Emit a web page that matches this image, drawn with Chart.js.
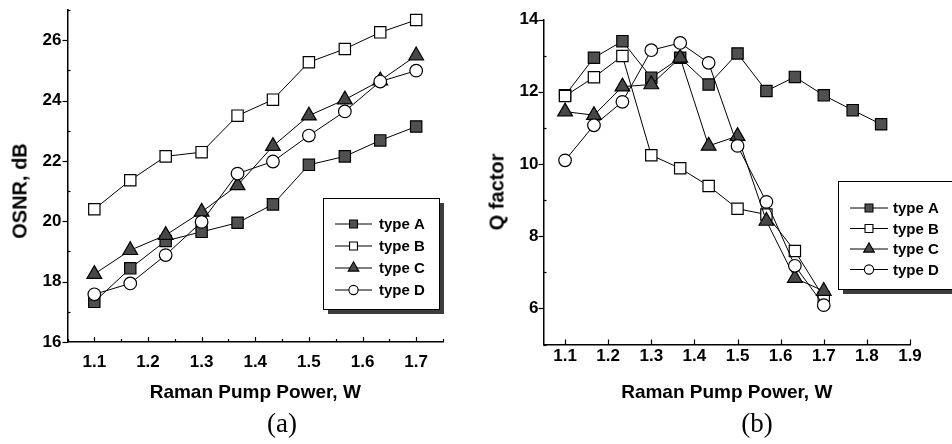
<!DOCTYPE html>
<html>
<head>
<meta charset="utf-8">
<script src="https://cdn.jsdelivr.net/npm/chart.js@4.4.1/dist/chart.umd.min.js"></script>
<style>
  html, body { margin: 0; padding: 0; background: #fff; }
  body { width: 952px; height: 444px; position: relative; overflow: hidden; font-family: "Liberation Sans", Arial, sans-serif; }
  .panel { position: absolute; top: 0; width: 476px; height: 444px; }
  .ytitle { position: absolute; transform: translate(-50%, -50%) rotate(-90deg); font: bold 20px "Liberation Sans", Arial, sans-serif; white-space: nowrap; color: #000; }
  .caption { position: absolute; transform: translate(-50%, -50%); font: 27px "Liberation Serif", "DejaVu Serif", serif; color: #000; white-space: nowrap; }
</style>
</head>
<body>
<div class="panel" style="left:0px"><canvas id="c1" width="476" height="444"></canvas></div>
<div class="panel" style="left:476px"><canvas id="c2" width="476" height="444"></canvas></div>
<div class="ytitle" style="left:20px; top:191px">OSNR, dB</div>
<div class="ytitle" style="left:497px; top:192px">Q factor</div>
<div class="caption" style="left:282px; top:423px">(a)</div>
<div class="caption" style="left:757px; top:423px">(b)</div>
<script>
// ---------- data ----------
const seriesNames = ['type A', 'type B', 'type C', 'type D'];
const xTitle = 'Raman Pump Power, W';

// (a) OSNR vs Raman pump power
const powerOSNR = [1.1, 1.167, 1.233, 1.3, 1.367, 1.433, 1.5, 1.567, 1.633, 1.7];
const osnrA = [17.33, 18.44, 19.35, 19.65, 19.95, 20.56, 21.87, 22.15, 22.68, 23.14];
const osnrB = [20.40, 21.36, 22.15, 22.29, 23.50, 24.03, 25.27, 25.71, 26.26, 26.67];
const osnrC = [18.25, 19.04, 19.54, 20.31, 21.19, 22.49, 23.50, 24.03, 24.66, 25.49];
const osnrD = [17.58, 17.94, 18.88, 19.98, 21.58, 21.98, 22.84, 23.64, 24.63, 24.99];

// (b) Q factor vs Raman pump power
const powerQ = [1.1, 1.167, 1.233, 1.3, 1.367, 1.433, 1.5, 1.567, 1.633, 1.7, 1.767, 1.833];
const qA = [11.90, 12.94, 13.40, 12.39, 12.94, 12.20, 13.06, 12.02, 12.41, 11.90, 11.49, 11.10];
const qB = [11.88, 12.40, 12.99, 10.24, 9.88, 9.39, 8.76, 8.60, 7.59, 6.30];
const qC = [11.45, 11.35, 12.14, 12.20, 12.94, 10.50, 10.77, 8.42, 6.84, 6.48];
const qD = [10.10, 11.07, 11.72, 13.15, 13.35, 12.80, 10.50, 8.95, 7.18, 6.09];

// ---------- styles ----------
const styles = [
  { pointStyle: 'rect',     radius: 8,   fill: '#505050', legendRadius: 5.6 },
  { pointStyle: 'rect',     radius: 8,   fill: '#ffffff', legendRadius: 5.6 },
  { pointStyle: 'triangle', radius: 8.5, fill: '#474747', legendRadius: 6.2 },
  { pointStyle: 'circle',   radius: 6.3, fill: '#ffffff', legendRadius: 4.6 }
];

function toPoints(xs, ys) { return ys.map((y, i) => ({ x: xs[i], y: y })); }

function makeDatasets(xs, seriesList) {
  return seriesList.map((ys, i) => ({
    label: seriesNames[i],
    data: toPoints(xs, ys),
    borderColor: '#000',
    borderWidth: 1,
    backgroundColor: styles[i].fill,
    pointStyle: styles[i].pointStyle,
    pointRadius: styles[i].radius,
    pointHoverRadius: styles[i].radius,
    pointBackgroundColor: styles[i].fill,
    pointBorderColor: '#000',
    pointBorderWidth: 1.2,
    tension: 0,
    fill: false,
    order: 4 - i
  }));
}

function isMultiple(v, step) {
  const r = v / step;
  return Math.abs(r - Math.round(r)) < 1e-6;
}

// tick-mark plugin: major ticks outward on y, minor inward; x ticks inward (upwards)
const tickMarks = {
  id: 'tickMarks',
  afterDatasetsDraw(chart, args, o) {
    const ctx = chart.ctx, xs = chart.scales.x, ys = chart.scales.y;
    ctx.save();
    ctx.strokeStyle = '#000';
    ctx.lineWidth = 1.2;
    ys.ticks.forEach(t => {
      const y = Math.round(ys.getPixelForValue(t.value)) + 0.5;
      ctx.beginPath();
      if (isMultiple(t.value, o.yMajor)) {
        ctx.moveTo(ys.right - o.yMajorLen, y); ctx.lineTo(ys.right, y);
      } else {
        ctx.moveTo(ys.right, y); ctx.lineTo(ys.right + o.yMinorLen, y);
      }
      ctx.stroke();
    });
    xs.ticks.forEach(t => {
      const x = Math.round(xs.getPixelForValue(t.value)) + 0.5;
      const major = isMultiple(t.value, o.xMajor);
      if (!major && !o.xMinorLen) return;
      const len = major ? o.xMajorLen : o.xMinorLen;
      ctx.beginPath();
      ctx.moveTo(x, xs.top); ctx.lineTo(x, xs.top - len);
      ctx.stroke();
    });
    ctx.restore();
  }
};

// boxed legend with drop shadow, drawn inside the plot
const boxLegend = {
  id: 'boxLegend',
  afterDraw(chart, args, o) {
    const ctx = chart.ctx;
    const b = o.box;
    ctx.save();
    ctx.fillStyle = '#3c3c3c';
    ctx.fillRect(b.x + o.shadow, b.y + o.shadow, b.w, b.h);
    ctx.fillStyle = '#fff';
    ctx.fillRect(b.x, b.y, b.w, b.h);
    ctx.strokeStyle = '#000';
    ctx.lineWidth = 1;
    ctx.strokeRect(b.x + 0.5, b.y + 0.5, b.w, b.h);
    chart.data.datasets.forEach((ds, i) => {
      const y = o.rows[i];
      ctx.strokeStyle = '#000';
      ctx.lineWidth = 1;
      ctx.beginPath();
      ctx.moveTo(o.lineX0, y); ctx.lineTo(o.lineX1, y);
      ctx.stroke();
      ctx.fillStyle = ds.pointBackgroundColor;
      ctx.strokeStyle = '#000';
      ctx.lineWidth = 1.1;
      Chart.helpers.drawPoint(ctx, {
        pointStyle: ds.pointStyle, rotation: 0,
        radius: styles[i].legendRadius, borderWidth: 1.1
      }, (o.lineX0 + o.lineX1) / 2, y);
      ctx.fillStyle = '#000';
      ctx.font = o.font;
      ctx.textAlign = 'left';
      ctx.textBaseline = 'middle';
      ctx.fillText(ds.label, o.textX, y + 1);
    });
    ctx.restore();
  }
};

const tickFont = { family: '"Liberation Sans", Arial, sans-serif', size: 17, weight: 'bold' };
const titleFont = { family: '"Liberation Sans", Arial, sans-serif', size: 19, weight: 'bold' };

function makeChart(id, cfg) {
  return new Chart(document.getElementById(id), {
    type: 'line',
    data: { datasets: makeDatasets(cfg.xs, cfg.series) },
    plugins: [tickMarks, boxLegend],
    options: {
      responsive: false,
      animation: false,
      devicePixelRatio: 1,
      layout: { padding: cfg.padding },
      plugins: {
        legend: { display: false },
        tooltip: { enabled: false },
        tickMarks: cfg.marks,
        boxLegend: cfg.legend
      },
      scales: {
        x: {
          type: 'linear',
          min: cfg.xMin, max: cfg.xMax,
          grid: { display: false, drawTicks: false },
          border: { display: true, color: '#000', width: 1.5 },
          ticks: {
            stepSize: 0.05, autoSkip: false, maxRotation: 0, minRotation: 0,
            padding: cfg.xPad, color: '#000', font: tickFont,
            callback: v => isMultiple(v, 0.1) && v > cfg.xMin + 1e-6 ? v.toFixed(1) : ''
          },
          title: { display: true, text: xTitle, color: '#000', font: titleFont, padding: { top: 0, bottom: 40 } },
          afterFit(s) { s.height = cfg.xHeight; s.paddingLeft = 0; s.paddingRight = 0; }
        },
        y: {
          type: 'linear',
          min: cfg.yMin, max: cfg.yMax,
          grid: { display: false, drawTicks: false },
          border: { display: true, color: '#000', width: 1.5 },
          ticks: {
            stepSize: 1, autoSkip: false, padding: cfg.yPad, color: '#000', font: tickFont,
            callback: v => isMultiple(v, 2) ? String(v) : ''
          },
          afterFit(s) { s.width = 67.5; s.paddingTop = 0; s.paddingBottom = 0; }
        }
      }
    }
  });
}

makeChart('c1', {
  xs: powerOSNR, series: [osnrA, osnrB, osnrC, osnrD],
  xMin: 1.05, xMax: 1.75, yMin: 16, yMax: 27,
  padding: { left: 0, top: 10, right: 33, bottom: 0 },
  xHeight: 102, xPad: 10, yPad: 6,
  marks: { yMajor: 2, yMajorLen: 5, yMinorLen: 3, xMajor: 0.1, xMajorLen: 5, xMinorLen: 3 },
  legend: { box: { x: 323, y: 198, w: 116, h: 111 }, shadow: 5,
            lineX0: 335, lineX1: 372, textX: 379, rows: [224, 246, 268, 290],
            font: 'bold 15px "Liberation Sans", Arial, sans-serif' }
});

makeChart('c2', {
  xs: powerQ, series: [qA, qB, qC, qD],
  xMin: 1.05, xMax: 1.9, yMin: 5, yMax: 14,
  padding: { left: 0, top: 19.5, right: 42, bottom: 0 },
  xHeight: 99.5, xPad: 2, yPad: 5,
  marks: { yMajor: 2, yMajorLen: 5, yMinorLen: 3, xMajor: 0.1, xMajorLen: 5, xMinorLen: 0 },
  legend: { box: { x: 362, y: 181, w: 140, h: 108 }, shadow: 5,
            lineX0: 374, lineX1: 412, textX: 417, rows: [208, 228.5, 249, 269.5],
            font: 'bold 15px "Liberation Sans", Arial, sans-serif' }
});
</script>
</body>
</html>
